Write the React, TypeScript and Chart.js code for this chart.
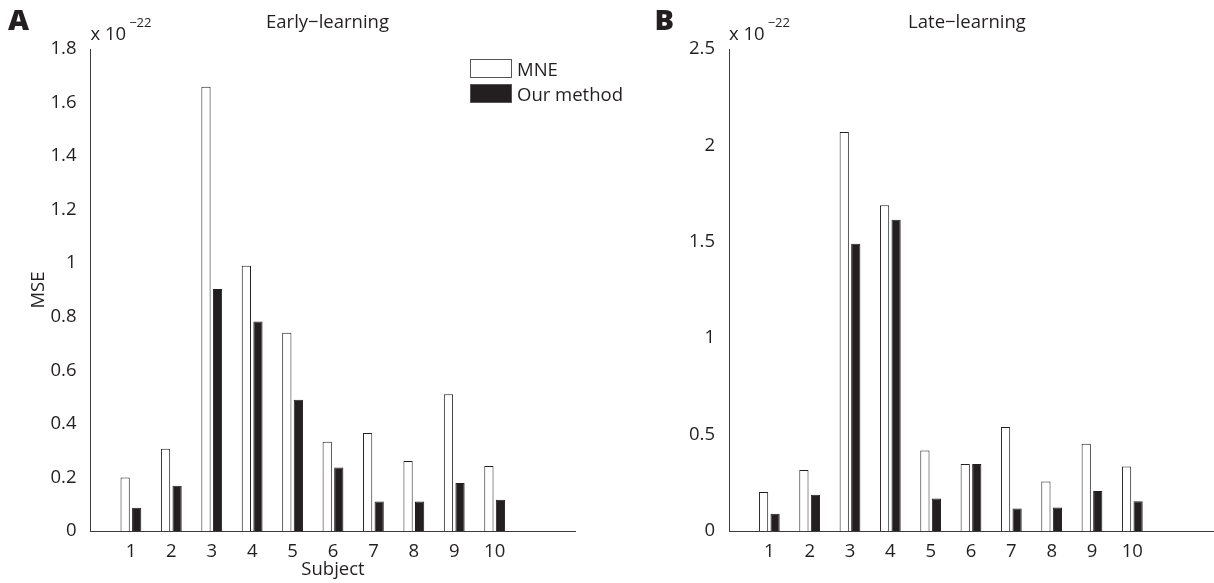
import React, { useEffect, useRef } from "react";
import { Chart, registerables } from "chart.js";

Chart.register(...registerables);

// Mean squared error per subject, in units of 1e-22
const subjects = [1, 2, 3, 4, 5, 6, 7, 8, 9, 10];
const xTickLabels = ["1", "2", "3", "4", "5", "6", "7", "8", "9", "10"];
const seriesNames = ["MNE", "Our method"];

const earlyMne = [0.2, 0.307, 1.659, 0.991, 0.74, 0.333, 0.366, 0.261, 0.511, 0.243];
const earlyOurs = [0.087, 0.169, 0.904, 0.782, 0.49, 0.237, 0.11, 0.11, 0.179, 0.117];

const lateMne = [0.202, 0.316, 2.07, 1.69, 0.418, 0.3475, 0.539, 0.257, 0.453, 0.335];
const lateOurs = [0.09, 0.188, 1.49, 1.615, 0.168, 0.3475, 0.117, 0.122, 0.207, 0.154];

const earlyYTicks = [0, 0.2, 0.4, 0.6, 0.8, 1, 1.2, 1.4, 1.6, 1.8];
const earlyYTickLabels = ["0", "0.2", "0.4", "0.6", "0.8", "1", "1.2", "1.4", "1.6", "1.8"];
const lateYTicks = [0, 0.5, 1, 1.5, 2, 2.5];
const lateYTickLabels = ["0", "0.5", "1", "1.5", "2", "2.5"];

const INK = "#231f20";
const AXIS = "#3c3c3c";
const FONT = '"Open Sans", "Noto Sans", sans-serif';
const FONT_SIZE = 18.5;

Chart.defaults.font.family = FONT;
Chart.defaults.font.size = FONT_SIZE;
Chart.defaults.color = INK;

const CANVAS_H = 583;

type PanelSpec = {
  letter: string;
  letterX: number;
  title: string;
  titleX: number;
  mne: number[];
  ours: number[];
  yMax: number;
  yTicks: number[];
  yLabels: string[];
  yWidth: number;
  canvasW: number;
  padRight: number;
  showAxisTitles: boolean;
  showLegend: boolean;
};

// Panel letter, title, exponent note and the legend
const panelDecor = {
  id: "panelDecor",
  afterDraw(chart: any, _args: any, opts: any) {
    const ctx = chart.ctx as CanvasRenderingContext2D;
    const area = chart.chartArea;
    ctx.save();
    ctx.fillStyle = INK;
    ctx.textBaseline = "alphabetic";

    ctx.font = `800 29px ${FONT}`;
    ctx.textAlign = "left";
    ctx.fillText(opts.letter, opts.letterX, 30);

    ctx.font = `${FONT_SIZE}px ${FONT}`;
    ctx.textAlign = "center";
    ctx.fillText(opts.title, opts.titleX, 28);

    ctx.textAlign = "left";
    const base = "x 10";
    ctx.fillText(base, area.left, 40);
    const w = ctx.measureText(base).width;
    ctx.font = `13px ${FONT}`;
    ctx.fillText("\u221222", area.left + w + 3, 27);

    if (opts.showLegend) {
      const boxX = 470;
      const boxW = 41;
      const boxH = 18;
      const rows = [59.5, 84.5];
      ctx.font = `${FONT_SIZE}px ${FONT}`;
      chart.data.datasets.forEach((ds: any, i: number) => {
        const y = rows[i];
        ctx.fillStyle = ds.backgroundColor;
        ctx.fillRect(boxX + 0.5, y, boxW, boxH);
        ctx.strokeStyle = "#555";
        ctx.lineWidth = 1;
        ctx.strokeRect(boxX + 0.5, y, boxW, boxH);
        ctx.fillStyle = INK;
        ctx.fillText(ds.label, 517, y + 16.5);
      });
    }
    ctx.restore();
  },
};

function buildConfig(p: PanelSpec): any {
  return {
    type: "bar",
    data: {
      datasets: [
        {
          label: seriesNames[0],
          data: subjects.map((s, i) => ({ x: s, y: p.mne[i] })),
          backgroundColor: "#ffffff",
          borderColor: INK,
          borderWidth: 1,
        },
        {
          label: seriesNames[1],
          data: subjects.map((s, i) => ({ x: s, y: p.ours[i] })),
          backgroundColor: INK,
          borderColor: INK,
          borderWidth: 1,
        },
      ],
    },
    options: {
      responsive: false,
      animation: false,
      events: [],
      layout: { padding: { left: 0, top: 49, right: p.padRight, bottom: 0 } },
      datasets: { bar: { categoryPercentage: 0.5714, barPercentage: 0.8 } },
      plugins: {
        legend: { display: false },
        tooltip: { enabled: false },
        title: { display: false },
        panelDecor: {
          letter: p.letter,
          letterX: p.letterX,
          title: p.title,
          titleX: p.titleX,
          showLegend: p.showLegend,
        },
      },
      scales: {
        x: {
          type: "linear",
          min: 0,
          max: 12,
          offset: false,
          grid: { display: false },
          border: { display: true, color: AXIS, width: 1 },
          afterBuildTicks: (scale: any) => {
            scale.ticks = subjects.map((v) => ({ value: v }));
          },
          afterFit: (scale: any) => {
            scale.height = 52;
          },
          ticks: {
            autoSkip: false,
            maxRotation: 0,
            padding: 2,
            color: INK,
            callback: (_v: any, i: number) => xTickLabels[i],
          },
          title: {
            display: p.showAxisTitles,
            text: "Subject",
            color: INK,
            padding: { top: 0, bottom: 2 },
          },
        },
        y: {
          type: "linear",
          min: 0,
          max: p.yMax,
          grid: { display: false },
          border: { display: true, color: AXIS, width: 1 },
          afterBuildTicks: (scale: any) => {
            scale.ticks = p.yTicks.map((v) => ({ value: v }));
          },
          afterFit: (scale: any) => {
            scale.width = p.yWidth;
          },
          ticks: {
            padding: 6,
            color: INK,
            callback: (_v: any, i: number) => p.yLabels[i],
          },
          title: {
            display: p.showAxisTitles,
            text: "MSE",
            color: INK,
            padding: { top: 28, bottom: 0 },
          },
        },
      },
    },
    plugins: [panelDecor],
  };
}

function Panel({ spec, left }: { spec: PanelSpec; left: number }) {
  const ref = useRef<HTMLCanvasElement | null>(null);
  useEffect(() => {
    if (!ref.current) return;
    const chart = new Chart(ref.current, buildConfig(spec));
    return () => chart.destroy();
  }, [spec]);
  return (
    <div style={{ position: "absolute", left, top: 0, width: spec.canvasW, height: CANVAS_H }}>
      <canvas ref={ref} width={spec.canvasW} height={CANVAS_H} style={{ display: "block" }} />
    </div>
  );
}

const earlySpec: PanelSpec = {
  letter: "A",
  letterX: 8,
  title: "Early\u2212learning",
  titleX: 327.5,
  mne: earlyMne,
  ours: earlyOurs,
  yMax: 1.8,
  yTicks: earlyYTicks,
  yLabels: earlyYTickLabels,
  yWidth: 90.5,
  canvasW: 660,
  padRight: 84.5,
  showAxisTitles: true,
  showLegend: true,
};

const lateSpec: PanelSpec = {
  letter: "B",
  letterX: 47.5,
  title: "Late\u2212learning",
  titleX: 360,
  mne: lateMne,
  ours: lateOurs,
  yMax: 2.5,
  yTicks: lateYTicks,
  yLabels: lateYTickLabels,
  yWidth: 122,
  canvasW: 607,
  padRight: 1,
  showAxisTitles: false,
  showLegend: false,
};

export default function App() {
  return (
    <div
      style={{
        position: "absolute",
        left: 0,
        top: 0,
        width: 1214,
        height: 583,
        background: "#ffffff",
        overflow: "hidden",
      }}
    >
      <Panel spec={earlySpec} left={0} />
      <Panel spec={lateSpec} left={607} />
    </div>
  );
}
